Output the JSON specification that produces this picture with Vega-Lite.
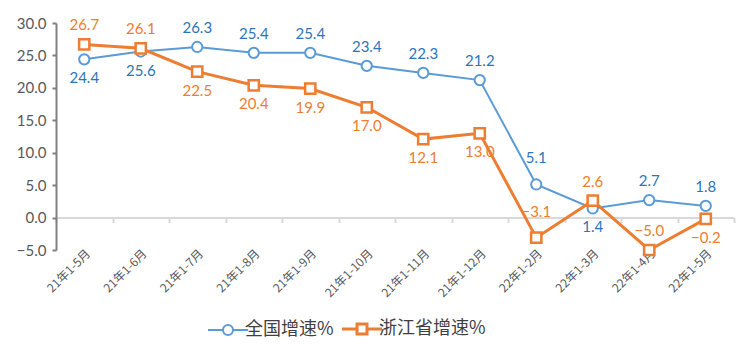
{
  "$schema": "https://vega.github.io/schema/vega-lite/v6.json",
  "width": 678,
  "height": 227,
  "autosize": {"type": "none"},
  "padding": {"left": 56, "top": 23, "right": 22, "bottom": 108},
  "background": "white",
  "config": {"view": {"stroke": null}, "font": "Lato"},
  "data": {"values": [
    {"m": "21年1-5月", "s": "全国增速%", "v": 24.4},
    {"m": "21年1-6月", "s": "全国增速%", "v": 25.6},
    {"m": "21年1-7月", "s": "全国增速%", "v": 26.3},
    {"m": "21年1-8月", "s": "全国增速%", "v": 25.4},
    {"m": "21年1-9月", "s": "全国增速%", "v": 25.4},
    {"m": "21年1-10月", "s": "全国增速%", "v": 23.4},
    {"m": "21年1-11月", "s": "全国增速%", "v": 22.3},
    {"m": "21年1-12月", "s": "全国增速%", "v": 21.2},
    {"m": "22年1-2月", "s": "全国增速%", "v": 5.1},
    {"m": "22年1-3月", "s": "全国增速%", "v": 1.4},
    {"m": "22年1-4月", "s": "全国增速%", "v": 2.7},
    {"m": "22年1-5月", "s": "全国增速%", "v": 1.8},
    {"m": "21年1-5月", "s": "浙江省增速%", "v": 26.7},
    {"m": "21年1-6月", "s": "浙江省增速%", "v": 26.1},
    {"m": "21年1-7月", "s": "浙江省增速%", "v": 22.5},
    {"m": "21年1-8月", "s": "浙江省增速%", "v": 20.4},
    {"m": "21年1-9月", "s": "浙江省增速%", "v": 19.9},
    {"m": "21年1-10月", "s": "浙江省增速%", "v": 17.0},
    {"m": "21年1-11月", "s": "浙江省增速%", "v": 12.1},
    {"m": "21年1-12月", "s": "浙江省增速%", "v": 13.0},
    {"m": "22年1-2月", "s": "浙江省增速%", "v": -3.1},
    {"m": "22年1-3月", "s": "浙江省增速%", "v": 2.6},
    {"m": "22年1-4月", "s": "浙江省增速%", "v": -5.0},
    {"m": "22年1-5月", "s": "浙江省增速%", "v": -0.2}
  ]},
  "encoding": {
    "x": {
      "field": "m", "type": "ordinal", "sort": null, "bandPosition": 0.5,
      "scale": {"type": "band", "paddingInner": 0, "paddingOuter": 0},
      "axis": {
        "title": null, "labelAngle": -45, "labelFont": "Noto Sans CJK SC", "labelFontSize": 12,
        "labelColor": "#595959", "offset": -32.4, "tickBand": "extent", "tickSize": 5,
        "tickColor": "#d9d9d9", "tickWidth": 2, "domainColor": "#d9d9d9", "domainWidth": 2,
        "labelPadding": 25, "grid": false, "zindex": 0
      }
    },
    "y": {
      "field": "v", "type": "quantitative",
      "scale": {"domain": [-5, 30], "nice": false, "zero": false},
      "axis": {
        "title": null, "values": [-5, 0, 5, 10, 15, 20, 25, 30], "format": ".1f",
        "labelFont": "Lato", "labelFontSize": 15, "labelColor": "#595959", "labelPadding": 6,
        "grid": false, "domainColor": "#808080", "domainWidth": 2, "tickColor": "#808080",
        "tickWidth": 2, "tickSize": 4
      }
    }
  },
  "layer": [
    {
      "mark": {"type": "line"},
      "encoding": {
        "color": {
          "field": "s", "type": "nominal",
          "scale": {"domain": ["全国增速%", "浙江省增速%"], "range": ["#5B9BD5", "#ED7D31"]},
          "legend": {
            "title": null, "orient": "none", "direction": "horizontal", "legendX": 163, "legendY": 297,
            "symbolType": {"expr": "datum.value === '全国增速%' ? 'M-1,0H-0.25M0.25,0H1M-0.25,0A0.25,0.25 0 1,1 0.25,0A0.25,0.25 0 1,1 -0.25,0' : 'M-1,0H-0.25M0.25,0H1M-0.25,-0.25H0.25V0.25H-0.25Z'"},
            "symbolSize": 1600, "symbolStrokeWidth": {"expr": "datum.value === '全国增速%' ? 2 : 3"},
            "symbolFillColor": "white",
            "labelFont": "Noto Sans CJK SC", "labelFontSize": 18, "labelColor": "#404040",
            "columnPadding": 2, "labelOffset": 8
          }
        },
        "strokeWidth": {"condition": {"test": "datum.s === '浙江省增速%'", "value": 3}, "value": 2}
      }
    },
    {
      "mark": {"type": "point", "filled": false, "fill": "white", "size": 105, "opacity": 1},
      "encoding": {
        "color": {"field": "s", "type": "nominal", "legend": null},
        "shape": {"condition": {"test": "datum.s === '浙江省增速%'", "value": "square"}, "value": "circle"},
        "strokeWidth": {"condition": {"test": "datum.s === '浙江省增速%'", "value": 2.5}, "value": 2}
      }
    },
    {
      "transform": [{"filter": "datum.m !== '22年1-2月' && ((datum.s === '全国增速%' && indexof(['21年1-5月','21年1-6月','22年1-3月'], datum.m) < 0) || (datum.s === '浙江省增速%' && indexof(['21年1-5月','21年1-6月','22年1-3月','22年1-4月'], datum.m) >= 0))"}],
      "mark": {"type": "text", "dy": -19, "baseline": "middle", "fontSize": 15, "font": "Lato"},
      "encoding": {
        "text": {"field": "v", "type": "quantitative", "format": ".1f"},
        "color": {"condition": {"test": "datum.s === '全国增速%'", "value": "#2E75B6"}, "value": "#ED7D31"}
      }
    },
    {
      "transform": [{"filter": "datum.m === '22年1-2月'"}],
      "mark": {"type": "text", "dy": -26, "baseline": "middle", "fontSize": 15, "font": "Lato"},
      "encoding": {
        "text": {"field": "v", "type": "quantitative", "format": ".1f"},
        "color": {"condition": {"test": "datum.s === '全国增速%'", "value": "#2E75B6"}, "value": "#ED7D31"}
      }
    },
    {
      "transform": [{"filter": "(datum.s === '全国增速%' && indexof(['21年1-5月','21年1-6月','22年1-3月'], datum.m) >= 0) || (datum.s === '浙江省增速%' && indexof(['21年1-5月','21年1-6月','22年1-2月','22年1-3月','22年1-4月'], datum.m) < 0)"}],
      "mark": {"type": "text", "dy": 19, "baseline": "middle", "fontSize": 15, "font": "Lato"},
      "encoding": {
        "text": {"field": "v", "type": "quantitative", "format": ".1f"},
        "color": {"condition": {"test": "datum.s === '全国增速%'", "value": "#2E75B6"}, "value": "#ED7D31"}
      }
    }
  ]
}
